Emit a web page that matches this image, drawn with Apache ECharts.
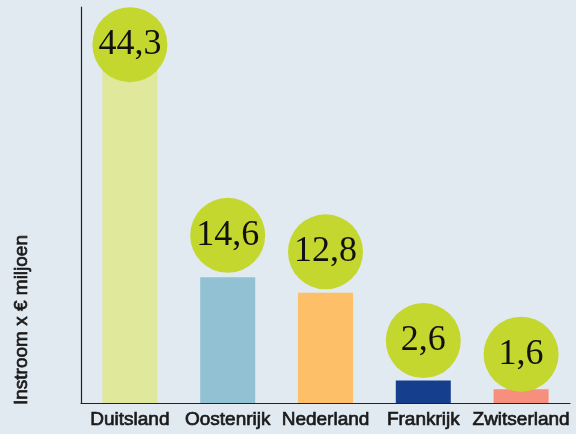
<!DOCTYPE html>
<html>
<head>
<meta charset="UTF-8">
<title>Instroom</title>
<script src="https://cdn.jsdelivr.net/npm/echarts@6/dist/echarts.min.js"></script>
<style>
  html, body { margin: 0; padding: 0; background: #e1e9f1; }
  #chart { width: 576px; height: 434px; }
</style>
</head>
<body>
<div id="chart"></div>
<script type="text/javascript">
// data
var landen = ['Duitsland', 'Oostenrijk', 'Nederland', 'Frankrijk', 'Zwitserland'];
var instroom = [44.3, 14.6, 12.8, 2.6, 1.6];
var yName = 'Instroom x € miljoen';

// style per bar
var barColors = ['#dfe89b', '#92c1d4', '#fdbf67', '#153f8d', '#f68f7b'];
// circle offset from bar top (px)
var bubbleShift = [23, -42, -41, -40, -35];

var chart = echarts.init(document.getElementById('chart'));

var barData = instroom.map(function (v, i) {
    return { value: v, itemStyle: { color: barColors[i] } };
});
var bubbleData = instroom.map(function (v, i) {
    return { value: v, symbolOffset: [0, bubbleShift[i]] };
});

var option = {
    backgroundColor: '#e1e9f1',
    animation: false,
    grid: { left: 81, right: 6, top: 7, bottom: 31 },
    xAxis: {
        type: 'category',
        data: landen,
        axisLine: { lineStyle: { color: '#222', width: 1.2 } },
        axisTick: { show: false },
        axisLabel: {
            interval: 0,
            color: '#1a1a1a',
            fontFamily: 'Liberation Sans',
            fontSize: 19,
            textBorderColor: '#1a1a1a',
            textBorderWidth: 0.7,
            margin: 7
        }
    },
    yAxis: {
        type: 'value',
        min: 0,
        max: 46,
        axisLine: { show: true, lineStyle: { color: '#222', width: 1.2 } },
        axisTick: { show: false },
        axisLabel: { show: false },
        splitLine: { show: false }
    },
    graphic: [{
        type: 'text',
        x: 22,
        y: 405,
        rotation: Math.PI / 2,
        style: {
            text: yName,
            fill: '#1a1a1a',
            stroke: '#1a1a1a',
            lineWidth: 0.7,
            font: '19px "Liberation Sans"',
            textAlign: 'left',
            textVerticalAlign: 'middle'
        }
    }],
    series: [{
        type: 'bar',
        data: barData,
        barWidth: 55,
        z: 2
    }, {
        type: 'scatter',
        data: bubbleData,
        symbol: 'circle',
        symbolSize: 75,
        itemStyle: { color: '#c4d72f', opacity: 1 },
        z: 5,
        label: {
            show: true,
            position: 'inside',
            color: '#111',
            fontFamily: 'Liberation Serif',
            fontSize: 36,
            formatter: function (p) {
                return String(p.value).replace('.', ',');
            }
        }
    }]
};

chart.setOption(option);
</script>
</body>
</html>
